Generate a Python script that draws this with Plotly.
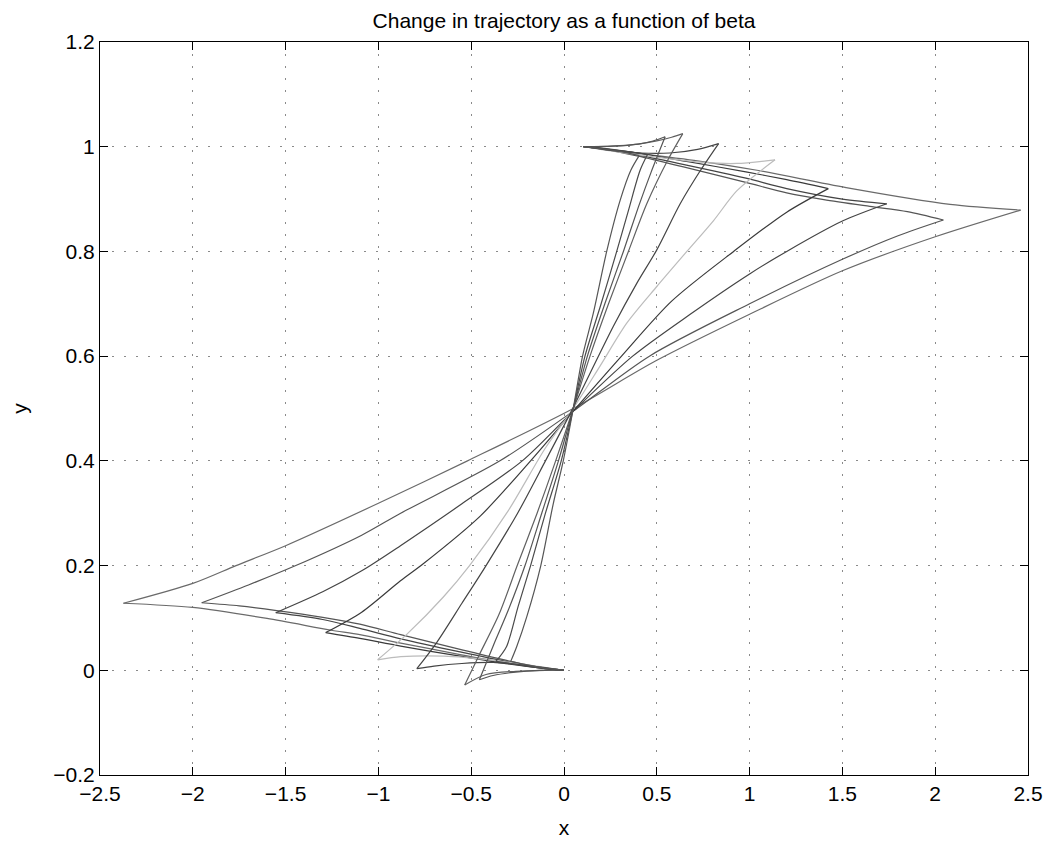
import plotly.graph_objects as go

# ---------------- data ----------------
X_TICKS = [-2.5, -2, -1.5, -1, -0.5, 0, 0.5, 1, 1.5, 2, 2.5]
X_TICK_TEXT = ["\u22122.5", "\u22122", "\u22121.5", "\u22121", "\u22120.5", "0", "0.5", "1", "1.5", "2", "2.5"]
Y_TICKS = [-0.2, 0, 0.2, 0.4, 0.6, 0.8, 1.0, 1.2]
Y_TICK_TEXT = ["\u22120.2", "0", "0.2", "0.4", "0.6", "0.8", "1", "1.2"]

# each trajectory: start -> lower cusp, lower cusp -> upper cusp, upper cusp -> end
T1_A = [(0, 0), (-0.12, 0.004), (-0.3, 0.013), (-0.56, 0.030), (-0.88, 0.052), (-1.1, 0.068),
        (-1.26, 0.077), (-1.6, 0.099), (-2.0, 0.120), (-2.374, 0.128)]
T1_B = [(-2.374, 0.128), (-2.0, 0.166), (-1.767, 0.200), (-1.5, 0.238), (-1.0, 0.319), (-0.52, 0.400),
        (0.05, 0.500), (0.5, 0.592), (1.0, 0.680), (1.5, 0.763), (2.0, 0.828), (2.46, 0.879)]
T1_C = [(2.46, 0.879), (2.08, 0.890), (1.52, 0.922), (1.04, 0.955), (0.70, 0.974), (0.46, 0.985),
        (0.24, 0.996), (0.105, 1.0)]

T2_A = [(0, 0), (-0.12, 0.005), (-0.3, 0.018), (-0.56, 0.040), (-0.88, 0.068), (-1.1, 0.088),
        (-1.3, 0.101), (-1.548, 0.114), (-1.75, 0.123), (-1.952, 0.129)]
T2_B = [(-1.952, 0.129), (-1.7, 0.163), (-1.445, 0.200), (-1.09, 0.258), (-0.88, 0.300), (-0.345, 0.400),
        (0.05, 0.495), (0.46, 0.600), (1.0, 0.700), (1.5, 0.785), (1.8, 0.830), (2.044, 0.860)]
T2_C = [(2.044, 0.860), (1.85, 0.876), (1.648, 0.886), (1.4, 0.899), (1.2, 0.912), (0.98, 0.932),
        (0.66, 0.960), (0.4, 0.982), (0.22, 0.995), (0.105, 1.0)]

T3_A = [(0, 0), (-0.12, 0.005), (-0.3, 0.016), (-0.56, 0.035), (-0.88, 0.060), (-1.1, 0.080),
        (-1.3, 0.097), (-1.553, 0.110)]
T3_B = [(-1.553, 0.110), (-1.3, 0.150), (-1.09, 0.190), (-0.881, 0.238), (-0.55, 0.318), (-0.225, 0.400),
        (0.05, 0.495), (0.37, 0.600), (0.68, 0.680), (1.0, 0.757), (1.2, 0.800), (1.5, 0.858), (1.739, 0.891)]
T3_C = [(1.739, 0.891), (1.5, 0.900), (1.2, 0.920), (0.98, 0.940), (0.66, 0.965), (0.4, 0.984),
        (0.22, 0.995), (0.105, 1.0)]

T4_A = [(0, 0), (-0.12, 0.004), (-0.3, 0.012), (-0.56, 0.027), (-0.88, 0.046), (-1.1, 0.061), (-1.284, 0.072)]
T4_B = [(-1.284, 0.072), (-1.09, 0.111), (-0.881, 0.171), (-0.76, 0.203), (-0.45, 0.295), (-0.18, 0.400),
        (0.05, 0.495), (0.31, 0.600), (0.58, 0.705), (0.914, 0.800), (1.2, 0.875), (1.424, 0.920)]
T4_C = [(1.424, 0.920), (1.2, 0.937), (0.98, 0.952), (0.66, 0.972), (0.4, 0.988), (0.22, 0.996), (0.105, 1.0)]

T5_A = [(0, 0), (-0.169, 0.009), (-0.382, 0.019), (-0.648, 0.027), (-0.879, 0.026), (-1.004, 0.020)]
T5_B = [(-1.004, 0.020), (-0.846, 0.069), (-0.65, 0.140), (-0.509, 0.200), (-0.3, 0.305), (-0.101, 0.424),
        (0.05, 0.500), (0.194, 0.581), (0.338, 0.663), (0.5, 0.733), (0.662, 0.800), (0.806, 0.859),
        (0.932, 0.916), (1.137, 0.975)]
T5_C = [(1.137, 0.975), (0.93, 0.968), (0.75, 0.970), (0.5, 0.980), (0.27, 0.991), (0.105, 1.0)]

T6_A = [(0, 0), (-0.169, 0.008), (-0.382, 0.015), (-0.55, 0.013), (-0.70, 0.008), (-0.793, 0.003)]
T6_B = [(-0.793, 0.003), (-0.686, 0.053), (-0.55, 0.128), (-0.42, 0.200), (-0.25, 0.300), (-0.10, 0.400),
        (0.04, 0.495), (0.266, 0.657), (0.392, 0.739), (0.5, 0.803), (0.626, 0.891), (0.734, 0.954),
        (0.833, 1.006)]
T6_C = [(0.833, 1.006), (0.72, 0.995), (0.57, 0.988), (0.41, 0.988), (0.25, 0.993), (0.105, 1.0)]

T7_A = [(0, 0), (-0.1, 0.0), (-0.26, -0.002), (-0.42, -0.008), (-0.535, -0.028)]
T7_B = [(-0.535, -0.028), (-0.46, 0.027), (-0.35, 0.107), (-0.252, 0.200), (-0.145, 0.300), (-0.045, 0.400),
        (0.05, 0.500), (0.14, 0.600), (0.24, 0.700), (0.347, 0.800), (0.446, 0.891), (0.56, 0.975),
        (0.640, 1.025)]
T7_C = [(0.640, 1.025), (0.58, 1.018), (0.5, 1.011), (0.4, 1.005), (0.3, 1.002), (0.18, 1.0), (0.105, 1.0)]

T8_A = [(0, 0), (-0.133, 0.0), (-0.275, -0.004), (-0.382, -0.010), (-0.456, -0.018)]
T8_B = [(-0.456, -0.018), (-0.38, 0.048), (-0.30, 0.115), (-0.21, 0.200), (-0.12, 0.300), (-0.03, 0.400),
        (0.05, 0.500), (0.126, 0.600), (0.22, 0.700), (0.32, 0.800), (0.401, 0.885), (0.47, 0.952),
        (0.545, 1.019)]
T8_C = [(0.545, 1.019), (0.48, 1.011), (0.4, 1.005), (0.26, 1.001), (0.105, 1.0)]

T9_A = [(0, 0), (-0.12, 0.004), (-0.25, 0.011), (-0.367, 0.017)]
T9_B = [(-0.367, 0.017), (-0.31, 0.045), (-0.247, 0.122), (-0.18, 0.200), (-0.10, 0.300), (-0.015, 0.400),
        (0.05, 0.500), (0.113, 0.600), (0.2, 0.700), (0.284, 0.800), (0.347, 0.878), (0.41, 0.955),
        (0.45, 0.985)]
T9_C = [(0.45, 0.985), (0.35, 0.990), (0.22, 0.996), (0.105, 1.0)]

T10_A = [(0, 0), (-0.08, 0.003), (-0.18, 0.009), (-0.287, 0.017)]
T10_B = [(-0.287, 0.017), (-0.255, 0.045), (-0.2, 0.103), (-0.125, 0.200), (-0.058, 0.318), (-0.004, 0.400),
         (0.05, 0.500), (0.10, 0.600), (0.158, 0.682), (0.23, 0.800), (0.302, 0.897), (0.36, 0.955),
         (0.405, 0.983)]
T10_C = [(0.405, 0.983), (0.3, 0.991), (0.18, 0.997), (0.105, 1.0)]

TRAJECTORIES = [
    (T1_A, T1_B, T1_C), (T2_A, T2_B, T2_C), (T3_A, T3_B, T3_C), (T4_A, T4_B, T4_C),
    (T5_A, T5_B, T5_C), (T6_A, T6_B, T6_C), (T7_A, T7_B, T7_C), (T8_A, T8_B, T8_C),
    (T9_A, T9_B, T9_C), (T10_A, T10_B, T10_C),
]
COLORS = ["#6a6a6a", "#555555", "#444444", "#3a3a3a", "#bcbcbc",
          "#444444", "#606060", "#555555", "#4a4a4a", "#555555"]

TITLE = "Change in trajectory as a function of beta"
FONT = "Liberation Sans, Arial, Helvetica, sans-serif"

fig = go.Figure()
for segs, col in zip(TRAJECTORIES, COLORS):
    xs, ys = [], []
    for i, seg in enumerate(segs):
        if i > 0:
            xs.append(None)
            ys.append(None)
        xs += [p[0] for p in seg]
        ys += [p[1] for p in seg]
    fig.add_trace(go.Scatter(x=xs, y=ys, mode="lines",
                             line=dict(color=col, width=1.2, shape="spline", smoothing=0.8),
                             connectgaps=False, showlegend=False, hoverinfo="skip"))

axis_common = dict(
    ticks="inside", ticklen=8, tickcolor="black", tickwidth=1,
    showline=True, linecolor="black", linewidth=1, mirror="ticks",
    showgrid=True, gridcolor="#8a8a8a", gridwidth=1, griddash="2px,10px",
    zeroline=False, automargin=False,
    tickfont=dict(family=FONT, size=21, color="black"),
)

# the page body adds an 8px margin, so the figure is sized to fit the 1051x850 window
fig.update_layout(
    width=1035, height=834,
    margin=dict(l=92, r=15, t=34, b=67),
    paper_bgcolor="white", plot_bgcolor="white",
    title=dict(text=TITLE, x=0.5, xref="paper", xanchor="center",
               y=1 - 5 / 834, yref="container", yanchor="top",
               font=dict(family=FONT, size=21, color="black")),
    xaxis=dict(range=[-2.5, 2.5], tickvals=X_TICKS, ticktext=X_TICK_TEXT,
               title=dict(text="x", font=dict(family=FONT, size=21, color="black"), standoff=16),
               **axis_common),
    yaxis=dict(range=[-0.2, 1.2], tickvals=Y_TICKS, ticktext=Y_TICK_TEXT,
               title=dict(text="y", font=dict(family=FONT, size=21, color="black"), standoff=22),
               **axis_common),
)

fig.write_html("out.html")
